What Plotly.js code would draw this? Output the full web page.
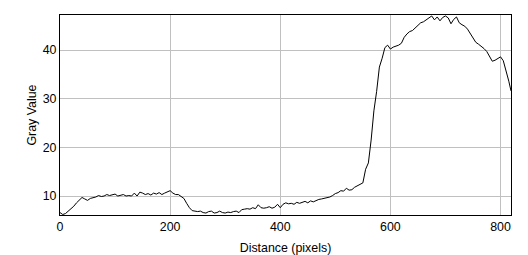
<!DOCTYPE html>
<html>
<head>
<meta charset="utf-8">
<script src="https://cdn.plot.ly/plotly-3.0.1.min.js"></script>
<style>html,body{margin:0;padding:0;background:#fff;}#chart{width:528px;height:255px;}</style>
</head>
<body>
<div id="chart"></div>
<script>
const distance = [0,5,10,15,20,25,30,35,40,45,50,55,60,65,70,75,80,85,90,95,100,105,110,115,120,125,130,135,140,145,150,155,160,165,170,175,180,185,190,195,200,205,210,215,220,225,230,235,240,245,250,255,260,265,270,275,280,285,290,295,300,305,310,315,320,325,330,335,340,345,350,355,360,365,370,375,380,385,390,395,400,405,410,415,420,425,430,435,440,445,450,455,460,465,470,475,480,485,490,495,500,505,510,515,520,525,530,535,540,545,550,555,560,565,570,575,580,585,590,595,600,605,610,615,620,625,630,635,640,645,650,655,660,665,670,675,680,685,690,695,700,705,710,715,720,725,730,735,740,745,750,755,760,765,770,775,780,785,790,795,800,805,810,815,819];
const grayValue = [6.6,6.2,6.4,6.9,7.3,7.9,8.6,9.2,9.7,9.4,9.1,9.5,9.6,9.8,10.1,9.9,10.0,10.3,10.1,10.2,10.4,10.0,10.1,10.3,10.0,10.1,10.0,10.6,10.0,10.8,10.6,10.3,10.5,10.2,10.6,10.4,10.7,10.3,10.6,10.9,11.1,10.6,10.3,10.3,9.8,9.5,8.5,7.6,7.0,6.9,6.8,6.9,6.6,6.5,6.8,6.9,6.5,6.6,6.9,6.6,6.5,6.7,6.6,6.8,6.9,6.6,7.2,7.3,7.4,7.3,7.6,7.4,8.2,7.6,7.5,7.6,7.8,7.5,7.7,8.3,7.6,8.3,8.6,8.4,8.5,8.3,8.7,8.5,8.7,8.9,8.6,9.0,8.8,9.1,9.3,9.4,9.5,9.6,9.8,10.1,10.5,10.7,11.1,11.0,11.6,11.2,11.3,11.8,12.1,12.4,12.7,15.5,16.8,21.5,27.5,31.5,36.5,38.3,40.5,41.0,40.2,40.6,40.8,41.0,41.4,42.6,43.3,43.8,44.0,44.5,45.0,45.6,45.8,46.2,46.6,47.0,46.2,46.8,46.0,46.7,47.0,46.6,45.4,46.3,46.8,45.6,45.2,44.9,44.3,43.4,42.4,41.6,41.2,40.8,40.3,39.7,38.8,37.7,37.9,38.2,38.6,37.8,35.8,33.6,31.6];
const xTicks = [0,200,400,600,800];
const yTicks = [10,20,30,40];

const trace = {
  x: distance, y: grayValue, type: 'scatter', mode: 'lines',
  line: {color: '#000000', width: 1}, hoverinfo: 'skip'
};
const font = {family: 'Liberation Sans, Arial, sans-serif', size: 12.4, color: '#000'};
const layout = {
  width: 528, height: 255,
  margin: {l: 60, r: 17, t: 15, b: 40},
  paper_bgcolor: '#fff', plot_bgcolor: '#fff',
  showlegend: false, font: font,
  xaxis: {
    range: [0, 819], tickvals: xTicks, ticktext: xTicks.map(String),
    showgrid: true, gridcolor: '#c0c0c0', gridwidth: 1,
    showline: true, linecolor: '#000', linewidth: 1, mirror: true,
    ticks: '', zeroline: false, tickfont: font,
    title: {text: 'Distance (pixels)', font: font, standoff: 10}
  },
  yaxis: {
    range: [6.1, 47.2], tickvals: yTicks, ticktext: yTicks.map(String),
    showgrid: true, gridcolor: '#c0c0c0', gridwidth: 1,
    showline: true, linecolor: '#000', linewidth: 1, mirror: true,
    ticks: '', zeroline: false, tickfont: font,
    title: {text: 'Gray Value', font: font, standoff: 3}
  }
};
Plotly.newPlot('chart', [trace], layout, {staticPlot: true, displayModeBar: false});
</script>
</body>
</html>
